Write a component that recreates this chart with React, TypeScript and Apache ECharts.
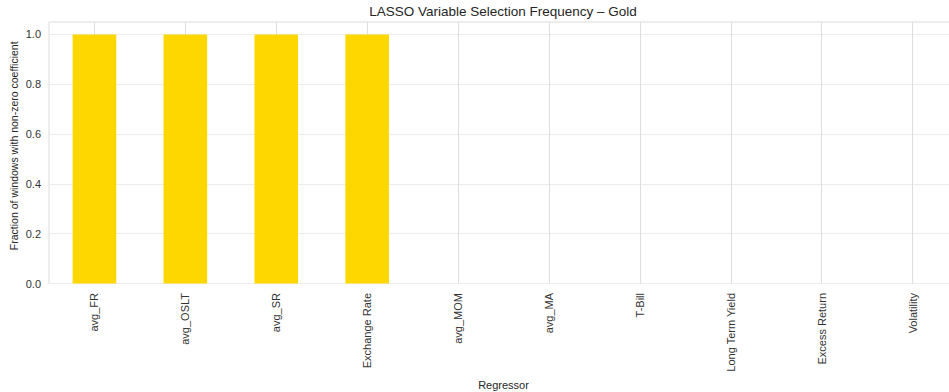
import React, { useEffect, useRef } from "react";
import * as echarts from "echarts";

const categories = [
  "avg_FR",
  "avg_OSLT",
  "avg_SR",
  "Exchange Rate",
  "avg_MOM",
  "avg_MA",
  "T-Bill",
  "Long Term Yield",
  "Excess Return",
  "Volatility",
];
const frequency = [1, 1, 1, 1, 0, 0, 0, 0, 0, 0];
const yTicks = [0, 0.2, 0.4, 0.6, 0.8, 1.0];

const FONT = "'Liberation Sans', Arial, sans-serif";
const TEXT = "#262626";

export default function App() {
  const ref = useRef<HTMLDivElement>(null);
  useEffect(() => {
    if (!ref.current) return;
    const chart = echarts.init(ref.current, undefined, { renderer: "svg" });
    chart.setOption({
      animation: false,
      backgroundColor: "#ffffff",
      title: {
        text: "LASSO Variable Selection Frequency – Gold",
        left: 503,
        textAlign: "center",
        top: 4,
        padding: 0,
        textStyle: { fontFamily: FONT, fontSize: 13.5, fontWeight: "normal", color: TEXT },
      },
      grid: {
        left: 49,
        top: 22,
        width: 909,
        height: 261.5,
        outerBoundsMode: "none",
        containLabel: false,
        show: true,
        borderColor: "#dcdcdc",
        borderWidth: 1,
        backgroundColor: "transparent",
      },
      xAxis: {
        type: "category",
        data: categories,
        name: "Regressor",
        nameLocation: "middle",
        nameGap: 90,
        nameTextStyle: { fontFamily: FONT, fontSize: 11, color: TEXT },
        axisLine: { show: false },
        axisTick: { show: false, alignWithLabel: true },
        axisLabel: {
          rotate: 90,
          margin: 9.5,
          fontFamily: FONT,
          fontSize: 11,
          color: "#333333",
          interval: 0,
        },
        splitLine: {
          show: true,
          alignWithLabel: true,
          lineStyle: { color: "#dedede", width: 1 },
        },
      },
      yAxis: {
        type: "value",
        min: 0,
        max: 1.05,
        interval: 0.2,
        name: "Fraction of windows with non-zero coefficient",
        nameLocation: "middle",
        nameGap: 30,
        nameMoveOverlap: false,
        nameTextStyle: {
          fontFamily: FONT,
          fontSize: 10.5,
          color: TEXT,
          padding: [0, 0, 0, 14],
        },
        axisLine: { show: false },
        axisTick: { show: false },
        axisLabel: {
          margin: 8,
          fontFamily: FONT,
          fontSize: 11,
          color: "#333333",
          formatter: (v: number) => (yTicks.some((t) => Math.abs(t - v) < 1e-9) ? v.toFixed(1) : ""),
        },
        splitLine: { show: true, lineStyle: { color: "#ececec", width: 1 } },
      },
      series: [
        {
          type: "bar",
          data: frequency,
          barWidth: "48%",
          itemStyle: { color: "#FFD700" },
          z: 3,
        },
      ],
    });
    return () => chart.dispose();
  }, []);
  return (
    <div
      ref={ref}
      style={{ width: 949, height: 392, position: "absolute", left: 0, top: 0 }}
    />
  );
}
